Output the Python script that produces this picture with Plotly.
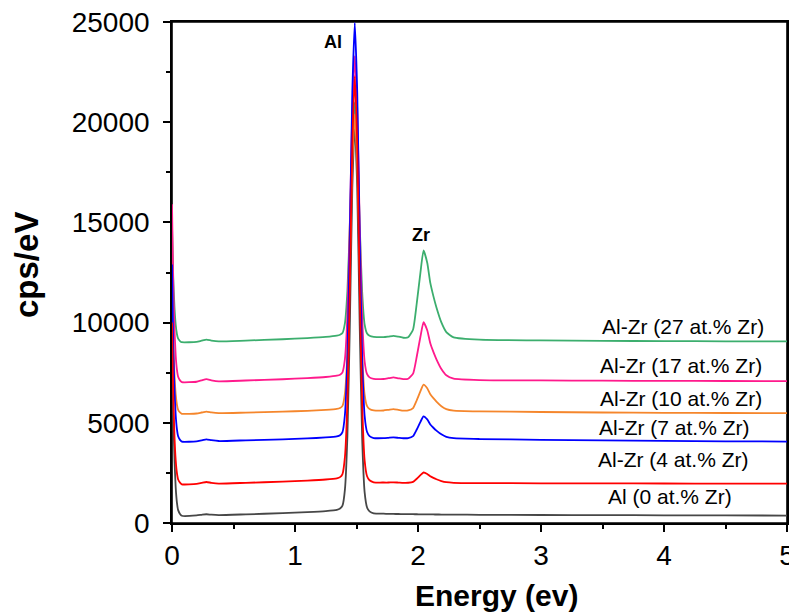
import plotly.graph_objects as go

energy = [0.0, 0.01, 0.02, 0.03, 0.04, 0.05, 0.065, 0.08,
          0.2, 0.24, 0.28, 0.32, 0.38,
          0.6, 0.9, 1.1, 1.25, 1.34,
          1.366, 1.386, 1.406, 1.426, 1.446, 1.466, 1.486, 1.506, 1.526, 1.546, 1.566, 1.586, 1.606, 1.64,
          1.72, 1.76, 1.80, 1.84, 1.88,
          1.92, 1.96, 1.99, 2.02, 2.045, 2.075, 2.10, 2.125, 2.15, 2.19, 2.23, 2.29,
          2.5, 3.0, 3.5, 4.0, 4.5, 5.0]

al_0 = [9800, 5552, 3192, 1776, 1021, 643, 454, 360,
        377, 408, 436, 414, 395,
        432, 490, 540, 592, 650,
        720, 864, 1678, 4345, 9932, 16751, 20000, 16701, 9852, 4225, 1538, 772, 577, 480,
        465, 455, 452, 448, 442,
        440, 438, 436, 434, 432, 430, 428, 426, 424, 422, 420, 418,
        410, 400, 392, 385, 378, 372]

alzr_4 = [10000, 6369, 4351, 3141, 2495, 2172, 2011, 1930,
          1948, 1999, 2047, 2005, 1966,
          2005, 2065, 2116, 2170, 2230,
          2290, 2442, 3298, 6069, 11872, 18945, 22300, 18885, 11772, 5929, 3128, 2332, 2131, 2030,
          2020, 2020, 2030, 2018, 2005,
          2008, 2052, 2208, 2390, 2520, 2447, 2328, 2250, 2182, 2094, 2036, 2005,
          1990, 1982, 1976, 1972, 1967, 1963]

alzr_7 = [12900, 8922, 6712, 5386, 4679, 4325, 4148, 4060,
          4076, 4126, 4173, 4131, 4091,
          4125, 4177, 4221, 4268, 4320,
          4380, 4537, 5416, 8258, 14222, 21487, 24950, 21467, 14187, 8208, 5351, 4539, 4338, 4240,
          4235, 4252, 4270, 4250, 4230,
          4236, 4335, 4665, 5050, 5325, 5171, 4918, 4753, 4610, 4423, 4300, 4232,
          4190, 4150, 4120, 4095, 4075, 4065]

alzr_10 = [12000, 9053, 7415, 6433, 5909, 5647, 5516, 5450,
           5464, 5514, 5562, 5519, 5479,
           5510, 5558, 5599, 5642, 5690,
           5740, 5847, 6471, 8495, 12745, 17924, 20400, 17909, 12715, 8450, 6411, 5831, 5688, 5620,
           5615, 5648, 5683, 5648, 5610,
           5618, 5735, 6125, 6580, 6905, 6723, 6424, 6229, 6060, 5829, 5686, 5610,
           5570, 5540, 5515, 5500, 5490, 5483]

alzr_17 = [15900, 11909, 9691, 8361, 7651, 7296, 7119, 7030,
           7049, 7116, 7179, 7122, 7068,
           7110, 7174, 7228, 7286, 7350,
           7400, 7520, 8189, 10380, 14990, 20619, 23300, 20589, 14930, 10285, 8059, 7424, 7267, 7190,
           7186, 7224, 7264, 7222, 7180,
           7199, 7455, 8310, 9308, 10020, 9621, 8966, 8538, 8168, 7683, 7370, 7199,
           7130, 7115, 7100, 7092, 7086, 7082]

alzr_27 = [14900, 12254, 10784, 9902, 9432, 9196, 9079, 9020,
           9040, 9096, 9150, 9103, 9060,
           9103, 9169, 9225, 9284, 9350,
           9395, 9477, 9969, 11571, 14936, 19038, 21000, 19028, 14911, 11531, 9915, 9457, 9344, 9290,
           9275, 9305, 9342, 9300, 9245,
           9264, 9658, 10972, 12505, 13600, 12987, 11979, 11322, 10753, 10008, 9527, 9264,
           9150, 9110, 9090, 9075, 9068, 9062]

series_names = ["Al (0 at.% Zr)", "Al-Zr (27 at.% Zr)", "Al-Zr (17 at.% Zr)",
                "Al-Zr (10 at.% Zr)", "Al-Zr (7 at.% Zr)", "Al-Zr (4 at.% Zr)"]
series_values = [al_0, alzr_27, alzr_17, alzr_10, alzr_7, alzr_4]
series_colors = ["#474747", "#3cae6e", "#ff1a8c", "#f5862c", "#0000ff", "#ff0000"]

label_texts = ["Al-Zr (27 at.% Zr)", "Al-Zr (17 at.% Zr)", "Al-Zr (10 at.% Zr)",
               "Al-Zr (7 at.% Zr)", "Al-Zr (4 at.% Zr)", "Al (0 at.% Zr)"]
label_x = [4.154, 4.142, 4.138, 4.089, 4.081, 4.049]
label_y = [9800, 7865, 6200, 4775, 3150, 1315]

peak_texts = ["Al", "Zr"]
peak_x = [1.309, 2.024]
peak_y = [24025, 14350]

fig = go.Figure()
for name, vals, col in zip(series_names, series_values, series_colors):
    fig.add_trace(go.Scatter(x=energy, y=vals, mode="lines", name=name,
                             line=dict(color=col, width=1.8, shape="spline", smoothing=0.5),
                             showlegend=False))

for t, x, y in zip(label_texts, label_x, label_y):
    fig.add_annotation(x=x, y=y, text=t, showarrow=False, xanchor="center", yanchor="middle",
                       font=dict(family="Liberation Sans, Arial", size=21, color="black"))
for t, x, y in zip(peak_texts, peak_x, peak_y):
    fig.add_annotation(x=x, y=y, text="<b>" + t + "</b>", showarrow=False,
                       xanchor="center", yanchor="middle",
                       font=dict(family="Liberation Sans, Arial", size=18, color="black"))

fig.add_annotation(xref="paper", yref="paper", x=(496 - 172) / 615, y=(523 - 595) / 501,
                   text="<b>Energy (ev)</b>", showarrow=False, xanchor="center", yanchor="middle",
                   font=dict(family="Liberation Sans, Arial", size=30, color="black"))
fig.add_annotation(xref="paper", yref="paper", x=(26 - 172) / 615, y=(523 - 265) / 501,
                   text="<b>cps/eV</b>", showarrow=False, xanchor="center", yanchor="middle",
                   textangle=-90,
                   font=dict(family="Liberation Sans, Arial", size=33, color="black"))

# plot frame (drawn beneath the curves)
fig.add_shape(type="rect", xref="paper", yref="paper", x0=0, y0=0, x1=1, y1=1,
              line=dict(color="black", width=1.6), layer="below")

axis_common = dict(showline=True, linecolor="black", linewidth=1.6, mirror=True,
                   ticks="outside", ticklen=7, tickwidth=1.5, tickcolor="black",
                   showgrid=False, zeroline=False, tickformat="d",
                   ticklabeloverflow="allow", layer="below traces",
                   tickfont=dict(family="Liberation Sans, Arial", size=28, color="black"))

# the page body adds an 8px offset, so the margins are reduced by 8px on the left/top
fig.update_layout(
    width=797, height=615,
    margin=dict(l=164, r=18, t=14, b=100, autoexpand=False),
    paper_bgcolor="white", plot_bgcolor="white",
    xaxis=dict(range=[0, 5], dtick=1, tick0=0,
               minor=dict(dtick=0.5, ticks="outside", ticklen=4, tickwidth=1.5, tickcolor="black"),
               **axis_common),
    yaxis=dict(range=[0, 25000], dtick=5000, tick0=0, ticklabelstandoff=8,
               minor=dict(dtick=2500, ticks="outside", ticklen=4, tickwidth=1.5, tickcolor="black"),
               **axis_common),
)

fig.write_html("out.html")
